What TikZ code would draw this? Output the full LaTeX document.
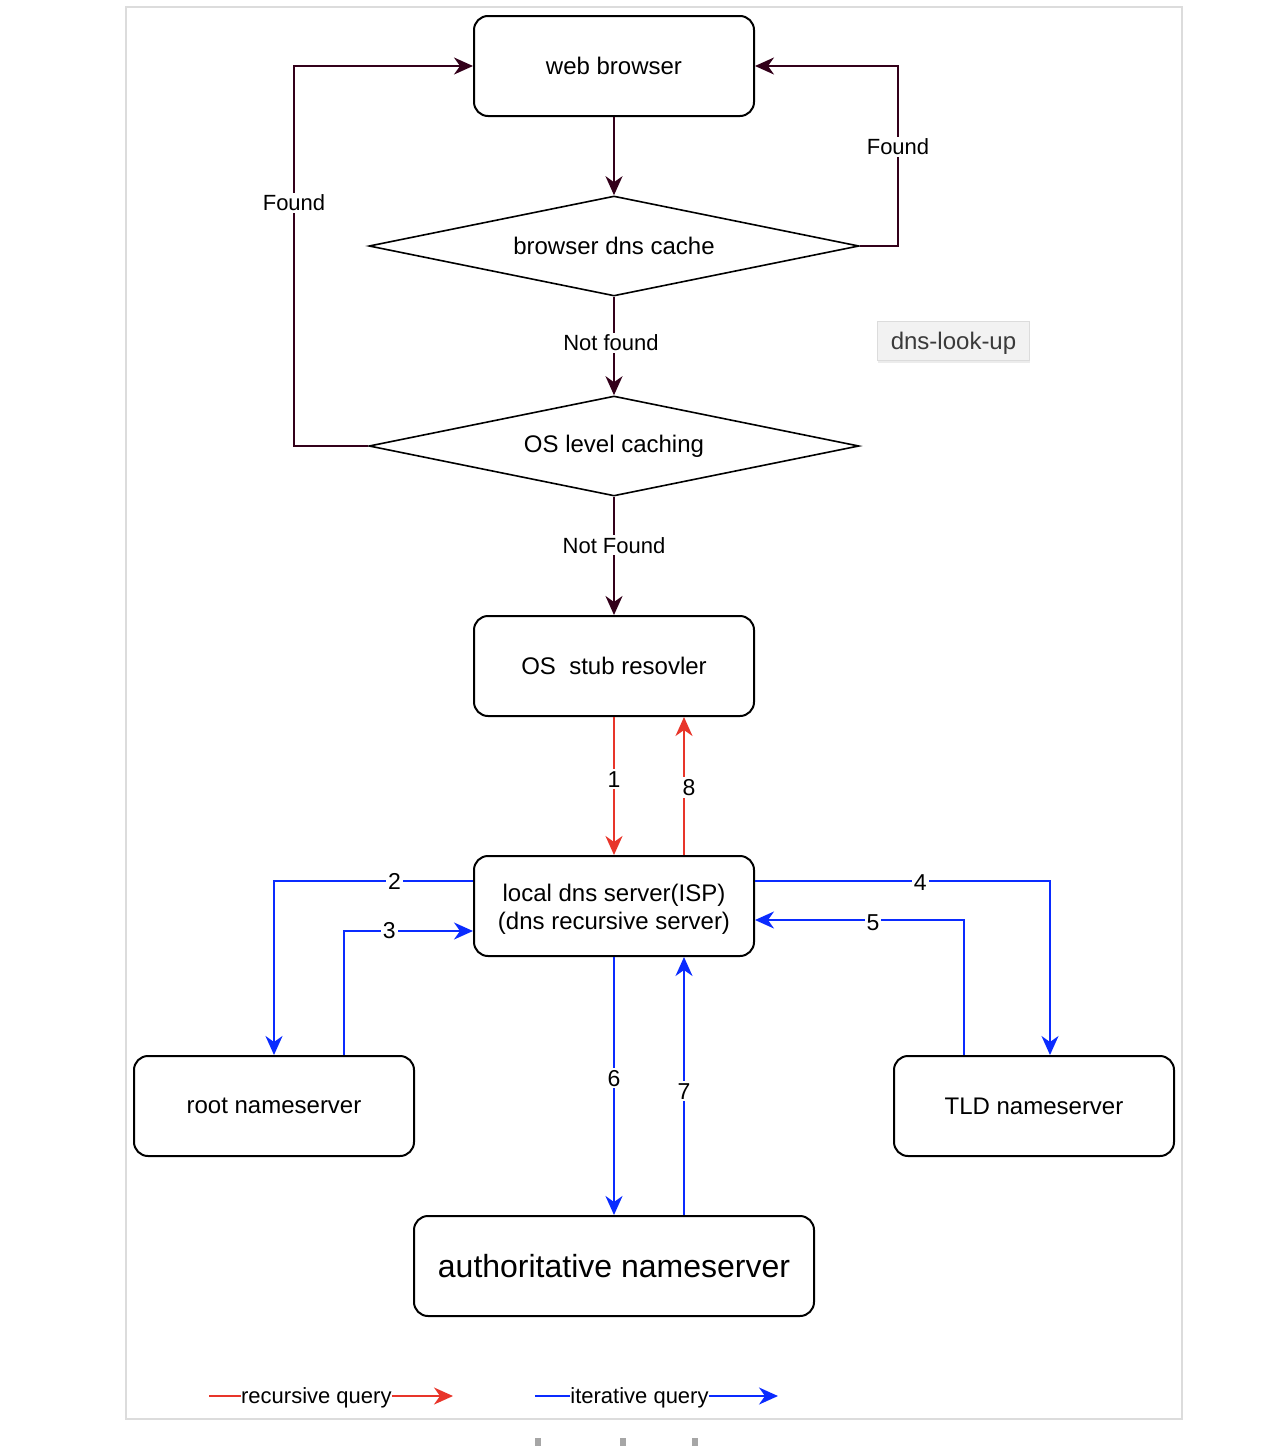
\documentclass[tikz,border=0pt]{standalone}
\usepackage{fontspec}
\setmainfont{Liberation Sans}
\usetikzlibrary{shapes.geometric,arrows.meta,shadows}
\definecolor{flowc}{HTML}{33001A}
\definecolor{recc}{HTML}{E8352A}
\definecolor{iterc}{HTML}{0A2BFF}
\definecolor{framec}{HTML}{DCDCDC}
\definecolor{tagfill}{HTML}{F2F2F2}
\definecolor{tagtext}{HTML}{3A3A3A}
\begin{document}
\begin{tikzpicture}[x=0.5pt,y=-0.5pt,
  box/.style={draw=black, line width=1pt, rounded corners=7pt, minimum width=140pt, minimum height=50pt, align=center, font=\fontsize{12}{14}\selectfont, inner sep=0pt},
  decision/.style={draw=black, line width=0.8pt, diamond, aspect=4.9, minimum width=245pt, minimum height=50pt, inner sep=0pt, font=\fontsize{12}{14}\selectfont},
  tip/.style={-{Stealth[length=9.5pt,width=8.5pt,inset=3pt]}},
  flow/.style={tip, draw=flowc, line width=1pt},
  rec/.style={tip, draw=recc, line width=0.9pt},
  iter/.style={tip, draw=iterc, line width=0.9pt},
  lbl/.style={fill=white, inner sep=1pt, font=\fontsize{11}{13}\selectfont},
  num/.style={fill=white, inner sep=1pt, font=\fontsize{11.5}{13}\selectfont},
]
\useasboundingbox (0,0) rectangle (1288,1446);
\fill[white] (0,0) rectangle (1288,1446);
% outer frame
\draw[framec, line width=1pt] (126,7) rectangle (1182,1419);
% scroll marks below the frame
\foreach \mx in {535,620,692}
  \fill[gray!70] (\mx,1438) rectangle ++(6,8);

% nodes
\node[box] (web) at (614,66) {web browser};
\node[decision] (bcache) at (614,246) {browser dns cache};
\node[decision] (oscache) at (614,446) {OS level caching};
\node[box] (stub) at (614,666) {OS\ \ stub resovler};
\node[box] (local) at (614,906) {};
\node[align=center, inner sep=0pt, font=\fontsize{12}{14}\selectfont, yshift=-1.5pt] (localtxt) at (local) {local dns server(ISP)\\(dns recursive server)};
\node[box] (root) at (274,1106) {root nameserver};
\node[box] (tld) at (1034,1106) {TLD nameserver};
\node[box, minimum width=200pt, font=\fontsize{16}{19}\selectfont] (auth) at (614,1266) {authoritative nameserver};

% tag
\node[draw=framec, fill=tagfill, line width=0.5pt, minimum width=76pt, minimum height=19.5pt, inner sep=0pt,
      drop shadow={shadow xshift=0pt, shadow yshift=-1.5pt, opacity=0.15},
      text=tagtext, font=\fontsize{12}{14}\selectfont, text depth=1pt, text height=10pt] (tag) at (953.5,340.5) {dns-look-up};

% cache lookup flow
\draw[flow] (web.south) -- (bcache.north);
\draw[flow] (bcache.east) -- (898,246) -- (898,66)
  node[lbl, pos=0.55] {Found} -- (web.east);
\draw[flow] (bcache.south) -- node[lbl, pos=0.47, xshift=-1.5pt] {Not found} (oscache.north);
\draw[flow] (oscache.west) -- (294,446) -- (294,66)
  node[lbl, pos=0.64] {Found} -- (web.west);
\draw[flow] (oscache.south) -- node[lbl, pos=0.41] {Not Found} (stub.north);

% recursive queries
\draw[rec] (stub.south) -- node[num, pos=0.45] {1} (local.north);
\draw[rec] ([xshift=35pt]local.north) -- node[num, pos=0.49, xshift=2.5pt] {8} ([xshift=35pt]stub.south);

% iterative queries
\draw[iter] ([yshift=12.5pt]local.west) -- (274,881)
  node[num, pos=0.395] {2} -- (root.north);
\draw[iter] ([xshift=35pt]root.north) -- (344,931) -- node[num, pos=0.35] {3} ([yshift=-12.5pt]local.west);
\draw[iter] ([yshift=12.5pt]local.east) -- (1050,881)
  node[num, pos=0.56, yshift=-1pt] {4} -- ([xshift=8pt]tld.north);
\draw[iter] ([xshift=-35pt]tld.north) -- (964,920) -- node[num, pos=0.435, yshift=-1.5pt] {5} ([yshift=-7pt]local.east);
\draw[iter] (local.south) -- node[num, pos=0.47] {6} (auth.north);
\draw[iter] ([xshift=35pt]auth.north) -- node[num, pos=0.48] {7} ([xshift=35pt]local.south);

% legend
\coordinate (ra) at (209,1396);
\coordinate (rb) at (453,1396);
\coordinate (ia) at (535,1396);
\coordinate (ib) at (778,1396);
\draw[rec] (ra) -- node[fill=white, pos=0.44, font=\fontsize{11}{13}\selectfont, inner sep=0pt, yshift=-1pt] {recursive query} (rb);
\draw[iter] (ia) -- node[fill=white, pos=0.43, font=\fontsize{11}{13}\selectfont, inner sep=0pt, yshift=-1pt] {iterative query} (ib);
\end{tikzpicture}
\end{document}
